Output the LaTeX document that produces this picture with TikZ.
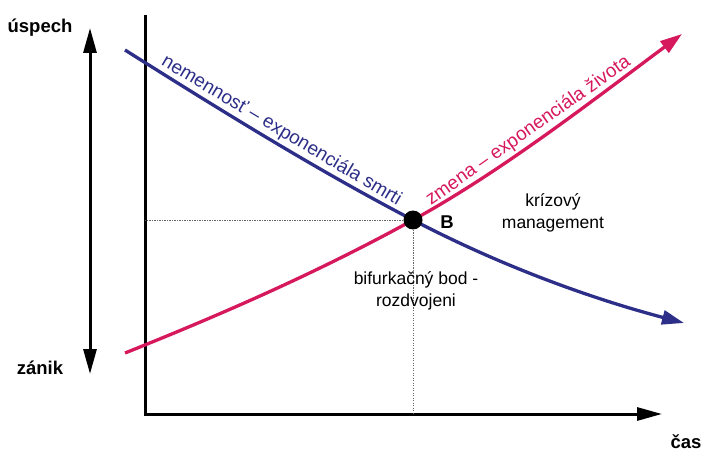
\documentclass[tikz,border=0pt]{standalone}
\usepackage{fontspec}
\setmainfont{Liberation Sans}
\usetikzlibrary{arrows.meta}

\definecolor{smrt}{RGB}{44,46,136}
\definecolor{zivot}{RGB}{214,24,92}

\begin{document}
\begin{tikzpicture}[x=1pt,y=-1pt,
    axis/.style={line width=3pt,line join=miter,-{Triangle[length=25pt,width=13pt]}},
    curve/.style={line width=3.3pt,-{Triangle[length=22pt,width=14pt]}},
    guide/.style={gray!80!black,line width=0.8pt,dash pattern=on 1.2pt off 1.3pt},
    tag/.style={font=\fontsize{18.5}{20}\selectfont\bfseries},
    note/.style={font=\fontsize{17.5}{22}\selectfont,align=center},
    curvelabel/.style={font=\fontsize{19}{21}\selectfont,sloped,above,inner sep=2.5pt}]
    \useasboundingbox (0,0) rectangle (701,454);

    % axes
    \coordinate (top) at (145,15);
    \coordinate (O) at (145,414);
    \coordinate (tEnd) at (662,414);
    \coordinate (up) at (90,28);
    \coordinate (down) at (90,374);
    \draw[axis] (top) -- (O) -- (tEnd);
    \draw[axis,{Triangle[length=25pt,width=13pt]}-{Triangle[length=25pt,width=13pt]}] (up) -- (down);

    \node[tag] (uspech) at (40,28) {úspech};
    \node[tag] (zanik) at (40,368) {zánik};
    \node[tag] (cas) at (686,442) {čas};

    % bifurcation point and guides
    \coordinate (B) at (413,220);
    \draw[guide] (B) -- (B -| O);
    \draw[guide] (B) -- (B |- O);

    % the two curves
    \coordinate (smrtS) at (125,50);
    \coordinate (smrtE) at (684,323);
    \coordinate (zivotS) at (125,353);
    \coordinate (zivotE) at (682,34);

    \draw[curve,smrt] (smrtS) .. controls (221,110.5) and (317,170) .. (B)
        node[curvelabel,pos=.52] {nemennosť – exponenciála smrti}
        .. controls (503,267) and (593,299) .. (smrtE);
    \draw[curve,zivot] (zivotS) .. controls (221,314.6) and (317,272.8) .. (B)
        .. controls (502,171) and (591,101.75) .. (zivotE)
        node[curvelabel,pos=.46] {zmena – exponenciála života};

    \node[circle,fill,minimum size=19pt,inner sep=0pt] (bod) at (B) {};
    \node[tag] (lblB) at (447,222) {B};

    \node[note] (krizovy) at (553,213) {krízový\\management};
    \node[note] (bifurk) at (416,291) {bifurkačný bod -\\rozdvojeni};
\end{tikzpicture}
\end{document}
